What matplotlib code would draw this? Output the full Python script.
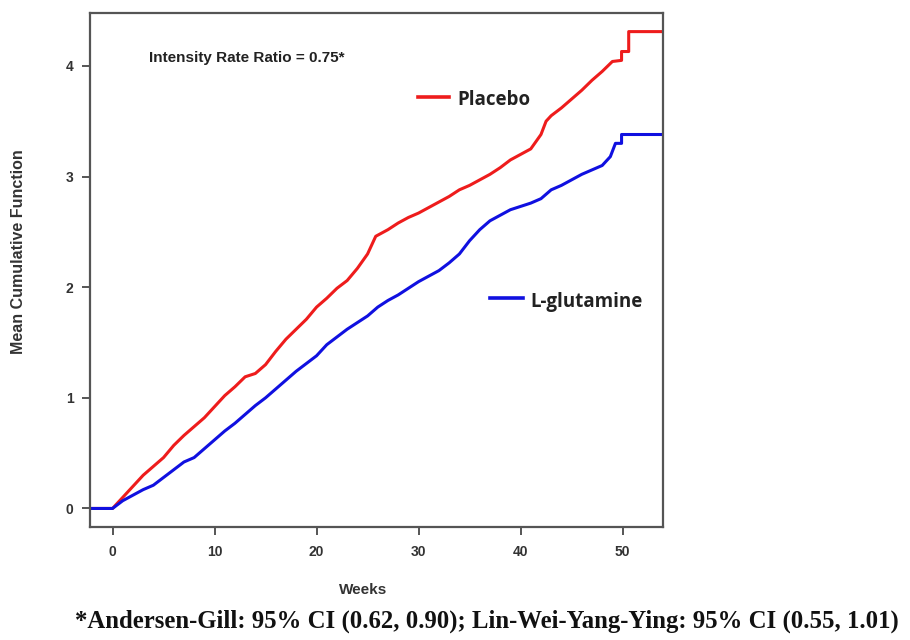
import numpy as np
import matplotlib.pyplot as plt

# mean cumulative function (weeks, value)
placebo_weeks = [-2.2, 0, 0.5, 1, 1.5, 2, 3, 4, 5, 6, 7, 8, 9, 10, 11, 12, 13, 14, 15,
                 16, 17, 18, 19, 20, 21, 22, 23, 24, 25, 25.8, 27, 28, 29, 30, 31,
                 32, 33, 34, 35, 36, 37, 38, 39, 40, 41, 42, 42.5, 43, 44, 45, 46,
                 47, 48, 49, 49.9, 49.9, 50.6, 50.6, 54]
placebo_mcf = [0, 0, 0.05, 0.1, 0.15, 0.2, 0.3, 0.38, 0.46, 0.57, 0.66, 0.74, 0.82, 0.92,
               1.02, 1.1, 1.19, 1.22, 1.3, 1.42, 1.53, 1.62, 1.71, 1.82, 1.9, 1.99,
               2.06, 2.17, 2.3, 2.46, 2.52, 2.58, 2.63, 2.67, 2.72, 2.77, 2.82, 2.88,
               2.92, 2.97, 3.02, 3.08, 3.15, 3.2, 3.25, 3.38, 3.5, 3.55, 3.62, 3.7,
               3.78, 3.87, 3.95, 4.04, 4.05, 4.13, 4.13, 4.31, 4.31]

glut_weeks = [-2.2, 0, 1, 2, 3, 4, 5, 6, 7, 8, 9, 10, 11, 12, 13, 14, 15, 16, 17,
              18, 19, 20, 21, 22, 23, 24, 25, 26, 27, 28, 29, 30, 31, 32, 33, 34,
              35, 36, 37, 38, 39, 40, 41, 42, 43, 44, 45, 46, 47, 48, 48.8, 49.3,
              49.9, 49.9, 54]
glut_mcf = [0, 0, 0.07, 0.12, 0.17, 0.21, 0.28, 0.35, 0.42, 0.46, 0.54, 0.62, 0.7,
            0.77, 0.85, 0.93, 1.0, 1.08, 1.16, 1.24, 1.31, 1.38, 1.48, 1.55, 1.62,
            1.68, 1.74, 1.82, 1.88, 1.93, 1.99, 2.05, 2.1, 2.15, 2.22, 2.3, 2.42,
            2.52, 2.6, 2.65, 2.7, 2.73, 2.76, 2.8, 2.88, 2.92, 2.97, 3.02, 3.06,
            3.1, 3.18, 3.3, 3.3, 3.38, 3.38]

x_ticks = [0, 10, 20, 30, 40, 50]
y_ticks = [0, 1, 2, 3, 4]

fig = plt.figure(figsize=(9.1, 6.4), dpi=100)
ax = fig.add_axes([0.099, 0.177, 0.630, 0.803])

ax.plot(placebo_weeks, placebo_mcf, color='#ee1c1c', lw=2.2)
ax.plot(glut_weeks, glut_mcf, color='#1010e0', lw=2.2)

ax.set_xlim(-2.2, 54)
ax.set_ylim(-0.165, 4.48)
ax.set_xticks(x_ticks)
ax.set_yticks(y_ticks)
for s in ax.spines.values():
    s.set_color('#555555')
    s.set_linewidth(1.6)
ax.tick_params(color='#555555', width=1.4, length=6, labelsize=10, labelcolor='#333333')
ax.tick_params(axis='x', pad=7)
ax.tick_params(axis='y', pad=6)
for lab in ax.get_xticklabels() + ax.get_yticklabels():
    lab.set_fontweight('bold')
    lab.set_family('Liberation Sans')

ax.set_xlabel('Weeks', fontsize=11, fontweight='bold', family='Liberation Sans',
              color='#333333')
ax.xaxis.set_label_coords(0.476, -0.109)
ax.set_ylabel('Mean Cumulative Function', fontsize=11.5, fontweight='bold',
              family='Liberation Sans', color='#333333')
ax.yaxis.set_label_coords(-0.112, 0.535)

ax.text(3.6, 4.07, 'Intensity Rate Ratio = 0.75*', fontsize=11, fontweight='bold',
        family='Liberation Sans', color='#222222', va='center', ha='left')

# legend drawn as in the original: short line plus label
ax.plot([29.9, 33.0], [3.72, 3.72], color='#ee1c1c', lw=2.6)
ax.text(33.8, 3.69, 'Placebo', fontsize=13.5, fontweight='bold', family='Open Sans',
        color='#222222', va='center')
ax.plot([37.0, 40.2], [1.9, 1.9], color='#1010e0', lw=2.6)
ax.text(41.0, 1.87, 'L-glutamine', fontsize=13.5, fontweight='bold', family='Open Sans',
        color='#222222', va='center')

fig.text(0.535, 0.03, '*Andersen-Gill: 95% CI (0.62, 0.90); Lin-Wei-Yang-Ying: 95% CI (0.55, 1.01)',
         fontsize=17.8, fontweight='bold', family='Liberation Serif', color='#111111',
         ha='center', va='center')

fig.savefig('out.png', dpi=100)
